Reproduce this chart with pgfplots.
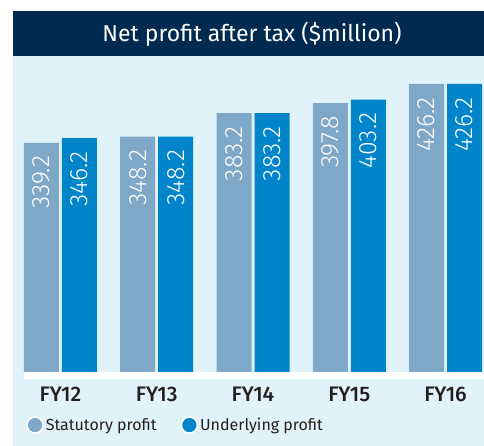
\documentclass[border=0pt]{standalone}
\usepackage{fontspec}
\setmainfont{Fira Sans}
\newfontfamily\lightfont{Fira Sans Light}
\newfontfamily\medfont{Fira Sans Medium}
\usepackage{pgfplots}
\usepackage{pgfplotstable}
\pgfplotsset{compat=1.18}

\definecolor{navy}{HTML}{002A50}
\definecolor{panel}{HTML}{E0F2FA}
\definecolor{statc}{HTML}{7FA8C8}
\definecolor{underc}{HTML}{0085CB}
\definecolor{textc}{HTML}{231F20}

% net profit after tax, $million
\pgfplotstableread{
x stat under
0 339.2 346.2
1 348.2 348.2
2 383.2 383.2
3 397.8 403.2
4 426.2 426.2
}\profit

\begin{document}
\begin{tikzpicture}[x=1pt,y=1pt]
\useasboundingbox (0,0) rectangle (484,446);
\fill[panel] (13,0) rectangle (484,390);
\fill[navy] (13,390) rectangle (484,435);
\node[text=white, font=\fontsize{23}{28}\selectfont] at (252,412) {Net profit after tax (\$million)};
\fill[white] (24,67) rectangle (484,74);
\begin{axis}[
    at={(24pt,74pt)}, anchor=south west,
    scale only axis, width=458pt, height=316pt,
    ybar, bar width=35pt,
    xmin=-0.379, xmax=4.379, ymin=0, ymax=467.6,
    axis line style={draw=none}, ytick=\empty,
    xtick=data, xticklabels={FY12,FY13,FY14,FY15,FY16},
    major tick length=0pt,
    xticklabel style={anchor=center, yshift=-22pt, text=textc,
        font=\medfont\fontsize{21}{24}\selectfont},
    clip=false,
    /pgf/number format/assume math mode=true,
    nodes near coords={\pgfmathprintnumber[fixed, fixed zerofill, precision=1]{\pgfplotspointmeta}},
    every node near coord/.append style={rotate=90, anchor=east,
        inner xsep=13pt, inner ysep=0pt, text=white,
        font=\lightfont\fontsize{25}{25}\selectfont},
    legend style={at={(-0.002,-0.168)}, anchor=west, draw=none, fill=none,
        legend columns=2, text=textc,
        /tikz/every even column/.append style={column sep=22pt},
        font=\fontsize{16}{20}\selectfont},
    legend cell align=left,
]
\addplot[draw=none, fill=statc, bar shift=-19pt,
    legend image code/.code={\filldraw[draw=white, line width=1.5pt, fill=statc] (7pt,0pt) circle (8pt);}]
    table[x=x, y=stat] {\profit};
\addlegendentry{Statutory profit}
\addplot[draw=none, fill=underc, bar shift=19pt,
    legend image code/.code={\filldraw[draw=white, line width=1.5pt, fill=underc] (7pt,0pt) circle (8pt);}]
    table[x=x, y=under] {\profit};
\addlegendentry{Underlying profit}
\end{axis}
\end{tikzpicture}
\end{document}
